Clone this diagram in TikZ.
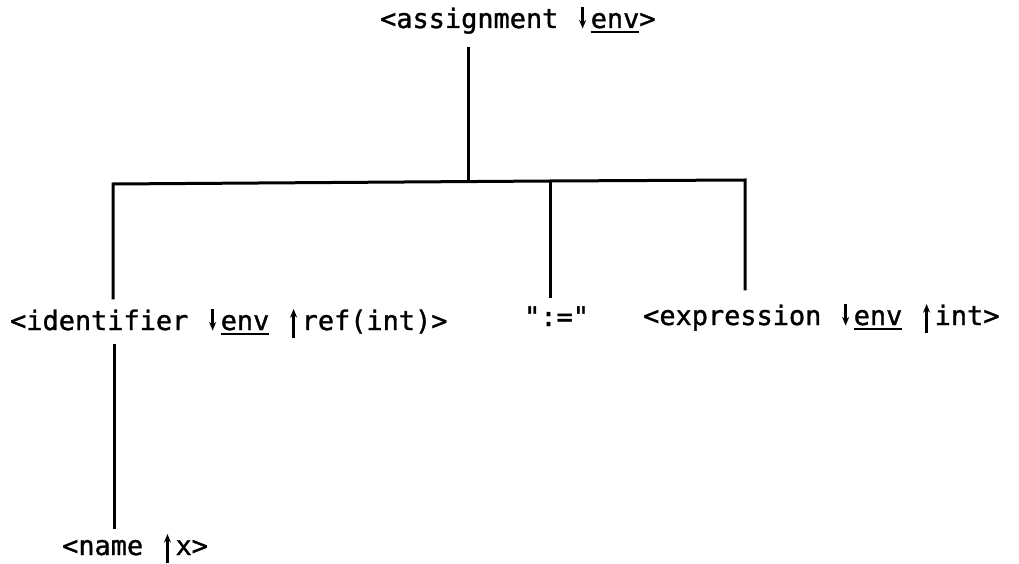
\documentclass[tikz,border=0pt]{standalone}
\usepackage{fontspec}
\newfontfamily\lblfont[FakeBold=1.2]{DejaVu Sans Mono}
\usetikzlibrary{arrows.meta}
\newcommand{\dnarr}{\makebox[0.602em]{\tikz[baseline=0pt]\draw[line width=0.1em,-{Stealth[length=0.32em,width=0.26em]}] (0,0.78em) -- (0,-0.02em);}}
\newcommand{\uparr}{\makebox[0.602em]{\tikz[baseline=0pt]\draw[line width=0.1em,-{Stealth[length=0.32em,width=0.26em]}] (0,-0.3em) -- (0,0.78em);}}
\newcommand{\ulx}[1]{\setbox0\hbox{#1}\rlap{\rule[-0.2em]{\wd0}{0.08em}}\box0\relax}
\begin{document}
\begin{tikzpicture}[x=1pt,y=-1pt,
  lbl/.style={font=\fontsize{26.9}{32}\selectfont\lblfont, inner sep=0pt, anchor=base west},
  tree/.style={line width=3pt, line cap=butt}]
\useasboundingbox[fill=white] (0,0) rectangle (1019,564);
\node[lbl] (assign) at (380,28) {<assignment \dnarr\ulx{env}>};
\node[lbl] (ident) at (10,330) {<identifier \dnarr\ulx{env} \uparr ref(int)>};
\node[lbl] (assop) at (524,326) {":="};
\node[lbl] (expr) at (643,325) {<expression \dnarr\ulx{env} \uparr int>};
\node[lbl] (name) at (62,555) {<name \uparr x>};
\coordinate (hub) at (468,181);
\coordinate (busl) at (113,184);
\coordinate (busm) at (550,181);
\coordinate (busr) at (745,180);
\coordinate (lowl) at (114,342);
\draw[tree] ([yshift=-13pt]assign.south -| hub) -- (hub);
\draw[tree] ([yshift=8pt]ident.north -| busl) -- (busl) -- (busm) -- (busr) -- ([yshift=12pt]expr.north -| busr);
\draw[tree] (busm) -- ([yshift=8pt]assop.north -| busm);
\draw[tree] ([yshift=-4pt]ident.south -| lowl) -- ([yshift=3pt]name.north -| lowl);
\end{tikzpicture}
\end{document}
